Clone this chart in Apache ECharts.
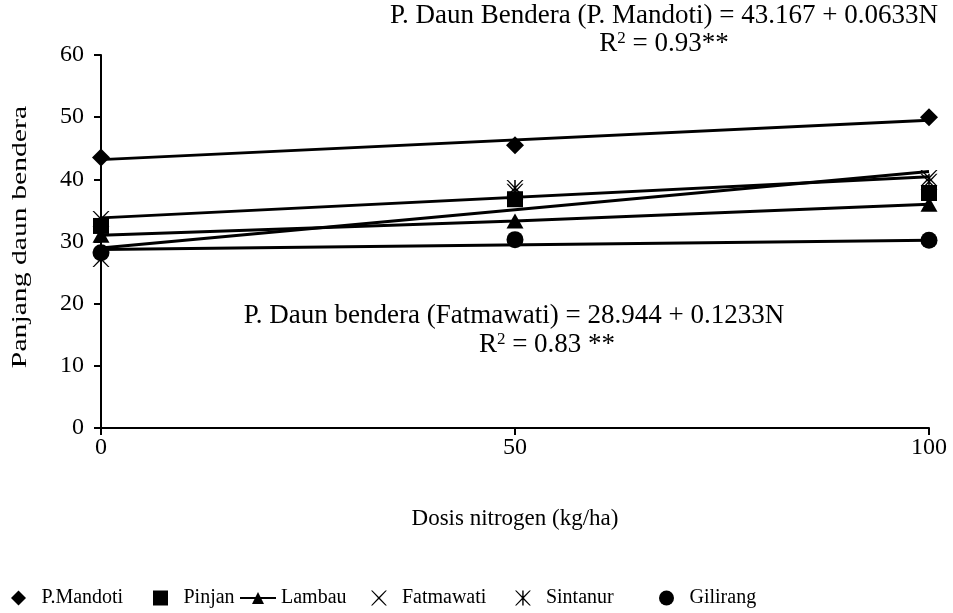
<!DOCTYPE html>
<html>
<head>
<meta charset="utf-8">
<script src="https://cdn.jsdelivr.net/npm/echarts@6/dist/echarts.min.js"></script>
<style>
html,body{margin:0;padding:0;background:#fff;}
#chart{width:953px;height:613px;}
</style>
</head>
<body>
<div id="chart"></div>
<script>
// ---- data ----
var doses = [0, 50, 100];
var mandoti   = [43.5, 45.5, 50.0];
var pinjan    = [32.5, 36.8, 37.8];
var lambau    = [31.0, 33.3, 36.0];
var fatmawati = [27.2, 38.0, 40.2];
var sintanur  = [33.6, 38.6, 39.6];
var gilirang  = [28.2, 30.3, 30.2];

// trend lines (endpoints at N = 0 and N = 100)
var trendEnds = [0, 100];
var trendMandoti   = [43.17, 49.5];
var trendSintanur  = [33.8, 40.4];
var trendFatmawati = [28.94, 41.27];
var trendGilirang  = [28.7, 30.2];

var yTicks = [0, 10, 20, 30, 40, 50, 60];
var xTicks = [0, 50, 100];
var seriesNames = ['P.Mandoti', 'Pinjan', 'Lambau', 'Fatmawati', 'Sintanur', 'Gilirang'];

var eqMandoti = 'P. Daun Bendera (P. Mandoti) = 43.167 + 0.0633N';
var r2Mandoti = '0.93**';
var eqFatmawati = 'P. Daun bendera (Fatmawati) = 28.944 + 0.1233N';
var r2Fatmawati = '0.83 **';

function pairs(xs, ys){ return xs.map(function(x,i){ return [x, ys[i]]; }); }

var FONT = '"Liberation Serif", "Times New Roman", serif';
var SYM_DIAMOND = 'path://M0,-1L1,0L0,1L-1,0Z';
var SYM_SQUARE = 'path://M0,0L1,0L1,1L0,1Z';
var SYM_X = 'path://M0,0L1.6,0L9,7.4L16.4,0L18,0L10.1,8.5L18,17L16.4,17L9,9.6L1.6,17L0,17L7.9,8.5Z';
var SYM_AST = 'path://M0,0L1.6,0L9,7.4L16.4,0L18,0L10.1,8.5L18,17L16.4,17L9,9.6L1.6,17L0,17L7.9,8.5Z M8.2,0L9.8,0L9.8,17L8.2,17Z';

function trend(name, xs, ys){
  return {
    name: name + ' trend', type: 'line', data: pairs(xs, ys),
    showSymbol: false, symbol: 'none', silent: true,
    lineStyle: {color: '#000', width: 3}, z: 2
  };
}
function scat(name, ys, symbol, size){
  return {
    name: name, type: 'scatter', data: pairs(doses, ys),
    symbol: symbol, symbolSize: size,
    itemStyle: {color: '#000', opacity: 1}, z: 5
  };
}
var legendLefts = [11, 153, 239, 371, 515, 659];
var legends = seriesNames.map(function(n, i){
  return {
    top: 588, left: legendLefts[i], padding: 0,
    itemWidth: 36, itemHeight: 15, selectedMode: false,
    textStyle: {fontFamily: FONT, fontSize: 20, color: '#000'},
    data: [n]
  };
});

var chart = echarts.init(document.getElementById('chart'), null, {renderer: 'canvas'});
var option = {
  backgroundColor: '#fff',
  animation: false,
  textStyle: {fontFamily: FONT, color: '#000'},
  grid: {left: 101, right: 24, top: 55, bottom: 185, containLabel: false},
  xAxis: {
    type: 'value', min: 0, max: 100, interval: 50,
    name: 'Dosis nitrogen (kg/ha)', nameLocation: 'middle', nameGap: 79,
    nameTextStyle: {fontFamily: FONT, fontSize: 23, color: '#000'},
    axisLine: {show: true, onZero: false, lineStyle: {color: '#000', width: 2}},
    axisTick: {show: true, length: 7, inside: false, lineStyle: {color: '#000', width: 2}},
    axisLabel: {fontFamily: FONT, fontSize: 24, color: '#000', margin: 8,
      formatter: function(v){ return xTicks.indexOf(v) >= 0 ? String(v) : ''; }},
    splitLine: {show: false}
  },
  yAxis: {
    type: 'value', min: 0, max: 60, interval: 10,
    axisLine: {show: true, lineStyle: {color: '#000', width: 2}},
    axisTick: {show: true, length: 7, lineStyle: {color: '#000', width: 2}},
    axisLabel: {fontFamily: FONT, fontSize: 24, color: '#000', margin: 17,
      formatter: function(v){ return yTicks.indexOf(v) >= 0 ? String(v) : ''; }},
    splitLine: {show: false}
  },
  legend: legends,
  graphic: [
    {type: 'text', x: 20, y: 237, rotation: Math.PI/2, scaleX: 1.35,
     style: {text: 'Panjang daun bendera', font: '22px ' + FONT, fill: '#000', align: 'center', verticalAlign: 'middle'}},
    {type: 'text', x: 664, y: 16,
     style: {text: eqMandoti, font: '27px ' + FONT, fill: '#000', align: 'center', verticalAlign: 'middle'}},
    {type: 'text', x: 664, y: 44,
     style: {text: '{n|R}{s|2}{n| = ' + r2Mandoti + '}', align: 'center', verticalAlign: 'middle',
       rich: {n: {fontFamily: FONT, fontSize: 27, color: '#000'},
              s: {fontFamily: FONT, fontSize: 17, color: '#000', verticalAlign: 'top', padding: [0,0,9,0]}}}},
    {type: 'text', x: 514, y: 316,
     style: {text: eqFatmawati, font: '27px ' + FONT, fill: '#000', align: 'center', verticalAlign: 'middle'}},
    {type: 'text', x: 547, y: 345,
     style: {text: '{n|R}{s|2}{n| = ' + r2Fatmawati + '}', align: 'center', verticalAlign: 'middle',
       rich: {n: {fontFamily: FONT, fontSize: 27, color: '#000'},
              s: {fontFamily: FONT, fontSize: 17, color: '#000', verticalAlign: 'top', padding: [0,0,9,0]}}}}
  ],
  series: [
    trend('P.Mandoti', trendEnds, trendMandoti),
    trend('Sintanur', trendEnds, trendSintanur),
    trend('Fatmawati', trendEnds, trendFatmawati),
    trend('Gilirang', trendEnds, trendGilirang),
    scat('P.Mandoti', mandoti, SYM_DIAMOND, 18),
    scat('Pinjan', pinjan, SYM_SQUARE, 16),
    {
      name: 'Lambau', type: 'line', data: pairs(doses, lambau),
      symbol: 'triangle', symbolSize: [17, 15], showAllSymbol: true,
      lineStyle: {color: '#000', width: 3}, itemStyle: {color: '#000', opacity: 1}, z: 4
    },
    scat('Fatmawati', fatmawati, SYM_X, [17, 16]),
    scat('Sintanur', sintanur, SYM_AST, [17, 16]),
    scat('Gilirang', gilirang, 'circle', 17)
  ]
};
chart.setOption(option);
</script>
</body>
</html>
